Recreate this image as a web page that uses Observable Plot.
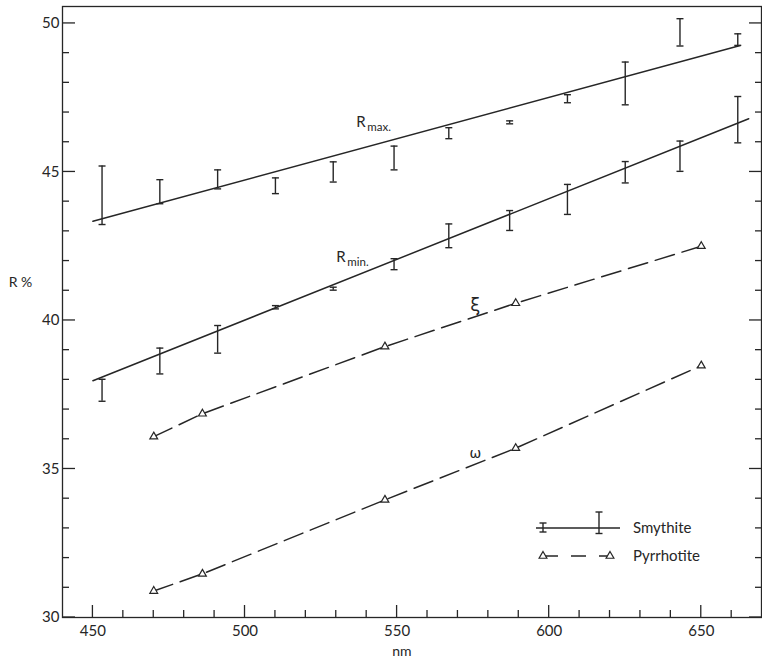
<!DOCTYPE html>
<html><head><meta charset="utf-8">
<script src="https://cdn.jsdelivr.net/npm/d3@7"></script>
<script src="https://cdn.jsdelivr.net/npm/@observablehq/plot@0.6"></script>
<style>
html,body{margin:0;padding:0;background:#fff;}
#wrap{position:relative;width:762px;height:663px;font-family:Lato,"DejaVu Sans",sans-serif;}
#wrap svg{display:block;}
#legend{position:absolute;left:530px;top:505px;}
</style></head><body><div id="wrap"></div>
<script>
const ink = "#262626";

// Smythite: wavelengths (nm) and error-bar ranges (R %)
const smyWl  = [453, 472, 491, 510, 529, 549, 567, 587, 606, 625, 643, 662];
const rmaxLo = [43.23, 43.93, 44.43, 44.27, 44.66, 45.07, 46.12, 46.62, 47.33, 47.26, 49.24, 49.26];
const rmaxHi = [45.20, 44.74, 45.07, 44.80, 45.34, 45.87, 46.49, 46.72, 47.60, 48.70, 50.16, 49.65];
const rminLo = [37.28, 38.20, 38.90, 40.39, 41.02, 41.71, 42.45, 43.03, 43.57, 44.63, 45.02, 45.98];
const rminHi = [38.02, 39.07, 39.83, 40.50, 41.12, 42.08, 43.25, 43.70, 44.58, 45.35, 46.04, 47.54];

// Smythite fitted lines
const rmaxFitWl = [450, 662.8];
const rmaxFitR  = [43.34, 49.26];
const rminFitWl = [450, 665.6];
const rminFitR  = [37.97, 46.79];

// Pyrrhotite
const pyWl  = [470, 486, 546, 589, 650];
const xiR   = [36.09, 36.86, 39.12, 40.58, 42.50];
const omegaR = [30.89, 31.47, 33.96, 35.70, 38.48];

// Axis ticks
const xMajor = [450, 500, 550, 600, 650];
const xMinor = [460, 470, 480, 490, 510, 520, 530, 540, 560, 570, 580, 590, 610, 620, 630, 640, 660];
const yMajor = [30, 35, 40, 45, 50];
const yMinor = [31, 32, 33, 34, 36, 37, 38, 39, 41, 42, 43, 44, 46, 47, 48, 49];

// Annotation labels
const curveLabels = [
  {wl: 536.6, r: 46.68, main: "R", sub: "max.", subR: 46.50},
  {wl: 530.0, r: 42.14, main: "R", sub: "min.", subR: 41.96}
];
const greekLabels = [
  {wl: 575.7, r: 40.50, t: "ξ", size: 18},
  {wl: 575.7, r: 35.52, t: "ω", size: 14}
];
const yTitle = "R %";
const xTitle = "nm";

const W = 762, H = 663, mL = 62, mR = 1, mT = 6, mB = 46;

const bars = (lo, hi) => smyWl.map((w, i) => ({wl: w, lo: lo[i], hi: hi[i]}));
const rmaxBars = bars(rmaxLo, rmaxHi);
const rminBars = bars(rminLo, rminHi);
const fit = (ws, rs) => ws.map((w, i) => ({wl: w, r: rs[i]}));
const rmaxFit = fit(rmaxFitWl, rmaxFitR);
const rminFit = fit(rminFitWl, rminFitR);
const xi = fit(pyWl, xiR);
const omega = fit(pyWl, omegaR);

const cap = {draw(ctx, size) { const r = Math.sqrt(size / Math.PI); ctx.moveTo(-r, 0); ctx.lineTo(r, 0); }};

function errorBars(data) {
  return [
    Plot.ruleX(data, {x: "wl", y1: "lo", y2: "hi", stroke: ink, strokeWidth: 1.4}),
    Plot.dot(data, {x: "wl", y: "lo", symbol: cap, r: 3.5, fill: "none", stroke: ink, strokeWidth: 1.4}),
    Plot.dot(data, {x: "wl", y: "hi", symbol: cap, r: 3.5, fill: "none", stroke: ink, strokeWidth: 1.4})
  ];
}

const chart = Plot.plot({
  width: W,
  height: H,
  marginLeft: mL,
  marginRight: mR,
  marginTop: mT,
  marginBottom: mB,
  style: {fontFamily: "Lato, 'DejaVu Sans', sans-serif", color: ink, background: "white"},
  x: {domain: [440, 669.8], label: null},
  y: {domain: [30, 50.57], label: null},
  marks: [
    Plot.frame({stroke: ink, strokeWidth: 1.3}),
    Plot.axisX(xMajor, {anchor: "bottom", tickSize: 0, tickPadding: 8, fontSize: 15, fill: ink, label: null}),
    Plot.axisY(yMajor, {anchor: "left", tickSize: 0, tickPadding: 3, fontSize: 15, fill: ink, label: null}),
    // axis titles
    Plot.text([yTitle], {text: d => d, frameAnchor: "left", y: [41.28], dx: -42, textAnchor: "middle", fontSize: 14, fill: ink}),
    Plot.text([xTitle], {text: d => d, frameAnchor: "bottom", x: [551.6], dy: 38, textAnchor: "middle", fontSize: 14, fill: ink}),
    // Smythite
    Plot.line(rmaxFit, {x: "wl", y: "r", stroke: ink, strokeWidth: 1.5}),
    Plot.line(rminFit, {x: "wl", y: "r", stroke: ink, strokeWidth: 1.5}),
    ...errorBars(rmaxBars),
    ...errorBars(rminBars),
    // Pyrrhotite
    Plot.line(xi, {x: "wl", y: "r", stroke: ink, strokeWidth: 1.5, strokeDasharray: "20,8"}),
    Plot.line(omega, {x: "wl", y: "r", stroke: ink, strokeWidth: 1.5, strokeDasharray: "20,8"}),
    Plot.dot(xi, {x: "wl", y: "r", symbol: "triangle", r: 2.9, fill: "white", stroke: ink, strokeWidth: 1.2}),
    Plot.dot(omega, {x: "wl", y: "r", symbol: "triangle", r: 2.9, fill: "white", stroke: ink, strokeWidth: 1.2}),
    // labels
    Plot.text(curveLabels, {x: "wl", y: "r", text: "main", textAnchor: "start", fontSize: 15, fill: ink}),
    Plot.text(curveLabels, {x: "wl", y: "subR", text: "sub", textAnchor: "start", dx: 11, fontSize: 11.5, fill: ink}),
    Plot.text(greekLabels, {x: "wl", y: "r", text: "t", fontSize: d => d.size, fill: ink, fontFamily: "'DejaVu Sans', sans-serif"})
  ]
});

const wrap = document.getElementById("wrap");
wrap.appendChild(chart);

// Inward-pointing axis ticks, positioned through the chart's own scales
const sx = chart.scale("x"), sy = chart.scale("y");
const x0 = sx.range[0], x1 = sx.range[1], y0 = sy.range[0], y1 = sy.range[1];
const bottom = Math.max(y0, y1), left = Math.min(x0, x1), right = Math.max(x0, x1);
const tg = d3.select(chart).append("g").attr("stroke", ink).attr("stroke-width", 1.3);
const addX = (vals, len) => vals.forEach(v => {
  const px = sx.apply(v);
  tg.append("line").attr("x1", px).attr("x2", px).attr("y1", bottom).attr("y2", bottom - len);
});
const addY = (vals, lenL, lenR) => vals.forEach(v => {
  const py = sy.apply(v);
  tg.append("line").attr("x1", left).attr("x2", left + lenL).attr("y1", py).attr("y2", py);
  tg.append("line").attr("x1", right).attr("x2", right - lenR).attr("y1", py).attr("y2", py);
});
addX(xMajor, 12);
addX(xMinor, 7);
addY(yMajor, 13, 12);
addY(yMinor, 7, 6);

// Legend (inset inside the plot frame)
const legendItems = [
  {name: "Smythite", kind: "bar"},
  {name: "Pyrrhotite", kind: "tri"}
];
const lg = d3.select(wrap).append("svg").attr("id", "legend")
  .attr("width", 190).attr("height", 65)
  .style("font-family", "Lato, 'DejaVu Sans', sans-serif");
legendItems.forEach((it, i) => {
  const g = lg.append("g").attr("transform", `translate(0,${23 + i * 28})`);
  if (it.kind === "bar") {
    g.append("line").attr("x1", 6).attr("x2", 90).attr("y1", 0).attr("y2", 0).attr("stroke", ink).attr("stroke-width", 1.5);
    [[13, -5, 4], [69, -16, 5.5]].forEach(([x, top, bot]) => {
      g.append("line").attr("x1", x).attr("x2", x).attr("y1", top).attr("y2", bot).attr("stroke", ink).attr("stroke-width", 1.4);
      g.append("line").attr("x1", x - 3.5).attr("x2", x + 3.5).attr("y1", top).attr("y2", top).attr("stroke", ink).attr("stroke-width", 1.4);
      g.append("line").attr("x1", x - 3.5).attr("x2", x + 3.5).attr("y1", bot).attr("y2", bot).attr("stroke", ink).attr("stroke-width", 1.4);
    });
  } else {
    g.append("line").attr("x1", 13).attr("x2", 80).attr("y1", 0).attr("y2", 0).attr("stroke", ink).attr("stroke-width", 1.5).attr("stroke-dasharray", "15,13");
    [13, 80].forEach(x => {
      g.append("path").attr("d", d3.symbol(d3.symbolTriangle, 2.9 * 2.9 * Math.PI)()).attr("transform", `translate(${x},0)`)
        .attr("fill", "white").attr("stroke", ink).attr("stroke-width", 1.2);
    });
  }
  g.append("text").attr("x", 103).attr("y", 0).attr("dy", "0.35em").attr("font-size", 15).attr("fill", ink).text(it.name);
});
</script>
</body></html>
